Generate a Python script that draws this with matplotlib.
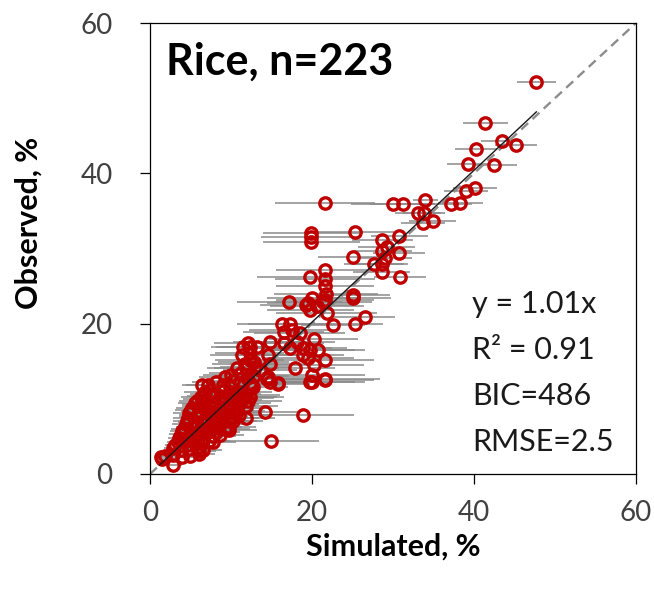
import numpy as np
import matplotlib
matplotlib.use("Agg")
import matplotlib.pyplot as plt

plt.rcParams["font.family"] = ["Lato", "DejaVu Sans"]

# upper points (simulated, observed, horizontal error)
sim_hi = [47.7, 41.4, 43.4, 45.2, 40.3, 39.3, 42.5, 40.1, 39.0, 38.3, 37.1, 34.0, 31.2, 30.0,
          33.1, 33.8, 34.9, 33.7, 21.6]
obs_hi = [52.1, 46.7, 44.3, 43.8, 43.2, 41.3, 41.1, 38.1, 37.6, 36.0, 35.9, 36.5, 35.9, 35.9,
          34.7, 34.7, 33.7, 33.4, 36.1]
err_hi = [2.4, 2.8, 2.5, 2.6, 2.6, 2.6, 2.8, 2.7, 2.7, 2.8, 2.6, 1.5, 4.0, 5.2,
          2.8, 2.6, 2.9, 2.7, 6.2]

# middle range
sim_mid = [19.9, 19.9, 19.9, 25.3, 28.7, 30.8, 29.2, 28.7, 30.7, 29.0, 27.6, 28.6, 28.6, 25.0,
           30.9, 19.7, 21.6, 21.6, 21.6, 21.7, 21.6, 25.1, 25.1, 17.2, 20.0, 19.3, 19.5, 19.8,
           20.6, 21.4, 21.8, 26.5, 25.3, 22.6, 16.3, 17.3, 16.5, 17.5, 18.5, 20.2, 20.8, 19.8,
           19.5, 20.2, 21.6, 17.9, 20.0, 21.6, 20.0, 21.6, 19.8, 16.5, 17.3, 18.1, 18.9, 18.9,
           14.8, 14.6, 14.6, 15.8, 14.8, 14.9, 18.9, 14.2, 11.9, 15.8]
obs_mid = [32.0, 31.5, 30.9, 32.2, 31.1, 31.6, 30.2, 29.7, 29.4, 28.8, 28.0, 28.0, 26.9, 28.9,
           26.2, 26.2, 27.2, 26.0, 25.0, 24.0, 23.2, 23.8, 23.4, 22.9, 23.4, 22.5, 22.7, 21.8,
           22.3, 22.9, 21.4, 20.9, 20.0, 19.8, 20.0, 20.0, 18.9, 19.2, 18.7, 18.0, 16.5, 16.5,
           15.4, 14.5, 15.2, 14.1, 13.2, 12.7, 12.3, 12.5, 12.3, 17.4, 16.7, 17.6, 16.7, 15.8,
           17.6, 15.8, 12.9, 12.1, 12.3, 4.4, 7.8, 8.2, 7.4, 12.0]
err_mid = [6.0, 6.2, 6.0, 4.8, 3.8, 3.5, 3.5, 3.6, 3.2, 3.4, 3.7, 3.3, 3.5, 4.3,
           3.2, 6.5, 6.0, 6.2, 6.0, 6.4, 6.1, 4.5, 4.7, 6.5, 5.5, 5.7, 5.0, 5.4,
           5.8, 6.0, 6.2, 3.8, 3.5, 4.0, 5.5, 5.2, 5.0, 5.3, 5.6, 5.5, 5.8, 5.5,
           5.7, 6.2, 6.0, 5.0, 6.5, 6.8, 6.5, 6.0, 5.5, 5.0, 5.2, 4.8, 5.4, 5.0,
           4.5, 4.2, 4.5, 4.0, 4.3, 6.0, 6.3, 4.5, 3.5, 4.0]

# dense low range
sim_lo = [6.8, 7.9, 9.0, 10.1, 11.2, 11.9,
          5.8, 6.9, 8.0, 9.2, 10.3, 11.4, 12.1,
          5.2, 6.3, 7.4, 8.6, 9.7, 10.8, 11.8,
          4.8, 5.9, 7.0, 8.1, 9.2, 10.2, 11.0,
          4.6, 5.6, 6.7, 7.8, 8.8, 9.8, 10.3,
          4.2, 5.2, 6.3, 7.3, 8.3, 9.2, 9.7,
          3.8, 4.8, 5.8, 6.8, 7.8, 8.6,
          3.4, 4.4, 5.4, 6.4, 7.3, 7.8,
          2.8, 3.8, 4.8, 5.8, 6.5,
          1.9, 2.9, 3.9, 4.9,
          1.4, 1.5, 2.9, 6.0, 6.0, 9.7,
          6.4, 7.2, 8.2, 9.0, 9.3, 9.9, 10.2, 11.1, 10.0, 11.2, 12.0, 12.5, 12.7, 12.8, 10.7,
          11.9, 13.0, 13.6, 12.3, 12.3, 12.3, 11.5, 12.1, 11.3, 12.3, 12.8, 11.7, 13.2, 12.3,
          14.4, 14.8,
          6.3, 7.5, 8.6, 9.7, 10.8, 11.7,
          5.5, 6.6, 7.7, 8.9, 10.0, 11.1,
          5.0, 6.1, 7.2, 8.4, 9.5, 10.6,
          4.7, 5.8, 6.9, 8.0, 9.0, 10.0,
          4.4, 5.4, 6.5, 7.6, 8.6,
          4.0, 5.0, 6.1, 7.1, 8.2,
          3.6, 4.6, 5.6, 6.6, 3.1]
obs_lo = [10.9, 10.6, 11.0, 10.7, 10.9, 10.5,
          9.7, 10.0, 9.6, 9.9, 9.8, 10.1, 9.7,
          8.8, 9.1, 8.9, 8.7, 9.0, 8.8, 9.1,
          8.1, 7.9, 8.2, 7.8, 8.0, 8.1, 7.9,
          7.1, 6.9, 7.0, 7.2, 6.8, 7.0, 7.1,
          6.0, 6.2, 6.1, 5.9, 6.2, 6.0, 6.3,
          5.3, 5.1, 5.2, 5.4, 5.0, 5.2,
          4.2, 4.4, 4.3, 4.1, 4.4, 4.2,
          3.4, 3.2, 3.3, 3.5, 3.2,
          2.4, 2.5, 2.3, 2.4,
          2.3, 2.0, 1.2, 3.0, 2.7, 5.9,
          11.8, 11.9, 12.2, 11.8, 12.9, 11.6, 12.4, 12.1, 13.2, 13.5, 12.8, 11.8, 11.6, 13.0, 14.1,
          14.1, 14.2, 13.8, 10.3, 12.1, 15.2, 16.9, 17.4, 15.8, 16.1, 14.9, 14.7, 16.9, 16.9,
          12.7, 14.6,
          10.3, 10.4, 10.2, 10.4, 10.3, 10.2,
          9.4, 9.3, 9.2, 9.4, 9.3, 9.4,
          8.5, 8.4, 8.5, 8.3, 8.5, 8.4,
          7.5, 7.6, 7.4, 7.5, 7.6, 7.4,
          6.6, 6.5, 6.7, 6.5, 6.6,
          5.7, 5.6, 5.7, 5.6, 5.6,
          4.8, 4.7, 4.9, 4.8, 3.8]
err_lo = [2.6, 3.0, 3.2, 3.6, 3.8, 4.1,
          2.2, 2.8, 3.1, 3.3, 3.5, 3.9, 4.2,
          2.0, 2.4, 2.9, 3.0, 3.4, 3.7, 4.0,
          1.9, 2.3, 2.6, 3.0, 3.2, 3.6, 3.8,
          1.8, 2.1, 2.5, 2.8, 3.1, 3.4, 3.6,
          1.6, 2.0, 2.3, 2.7, 3.0, 3.2, 3.4,
          1.5, 1.8, 2.2, 2.5, 2.8, 3.0,
          1.3, 1.6, 2.0, 2.3, 2.6, 2.8,
          1.1, 1.4, 1.8, 2.1, 2.4,
          0.8, 1.1, 1.4, 1.7,
          0.6, 0.6, 1.0, 2.2, 2.0, 3.5,
          2.4, 2.7, 3.0, 3.2, 3.3, 3.5, 3.6, 3.8, 3.5, 3.9, 4.1, 4.2, 4.3, 4.4, 3.7,
          4.0, 4.4, 4.6, 4.2, 4.2, 4.3, 4.0, 4.2, 3.9, 4.3, 4.4, 4.0, 4.5, 4.2,
          4.8, 4.9,
          2.5, 2.9, 3.1, 3.4, 3.7, 4.0,
          2.1, 2.6, 2.9, 3.2, 3.5, 3.8,
          1.9, 2.3, 2.7, 3.0, 3.3, 3.6,
          1.8, 2.2, 2.6, 2.9, 3.1, 3.5,
          1.7, 2.0, 2.4, 2.7, 3.0,
          1.5, 1.9, 2.2, 2.6, 2.9,
          1.4, 1.7, 2.1, 2.4, 1.2]

slope = 1.01
fit_x = [1.2, 47.7]
one_to_one = [0, 60]
stats = ["y = 1.01x", "R\u00b2 = 0.91", "BIC=486", "RMSE=2.5"]
ticks = [0, 20, 40, 60]

sim = np.concatenate([sim_hi, sim_mid, sim_lo])
obs = np.concatenate([obs_hi, obs_mid, obs_lo])
err = np.concatenate([err_hi, err_mid, err_lo])

fig = plt.figure(figsize=(6.54, 5.89), dpi=100)
ax = fig.add_axes([150 / 654, 1 - 474 / 589, 486 / 654, 451 / 589])

ax.plot(one_to_one, one_to_one, color="#8c8c8c", lw=1.7, ls=(0, (4, 2.5)), zorder=1)
ax.errorbar(sim, obs, xerr=err, fmt="none", ecolor="#8a8a8a", elinewidth=1.1, capsize=0, zorder=2)
ax.plot(sim, obs, "o", mfc="none", mec="#C00000", ms=8.2, mew=2.4, zorder=3)
ax.plot(fit_x, [slope * v for v in fit_x], color="#1a1a1a", lw=1.0, zorder=4)

ax.set_xlim(0, 60)
ax.set_ylim(0, 60)
ax.set_xticks(ticks)
ax.set_yticks(ticks)
ax.tick_params(axis="both", direction="out", length=7, width=0.9, color="black",
               labelsize=20, labelcolor="#404040")
ax.tick_params(axis="x", pad=12)
ax.tick_params(axis="y", pad=20)
for s in ax.spines.values():
    s.set_color("black")
    s.set_linewidth(0.9)

ax.set_xlabel("Simulated, %", fontsize=22, fontweight="bold", va="center")
ax.xaxis.set_label_coords(0.5, -0.162)
ax.set_ylabel("Observed, %", fontsize=22, fontweight="bold", va="center")
ax.yaxis.set_label_coords(-0.249, 0.556)

ax.text(2.0, 53.1, "Rice, n=223", fontsize=31, fontweight="bold", va="baseline", color="black")
for i, s in enumerate(stats):
    ax.text(39.8, 21.4 - i * 6.1, s, fontsize=22, va="baseline", color="#1a1a1a")

fig.savefig("out.png", dpi=100)
